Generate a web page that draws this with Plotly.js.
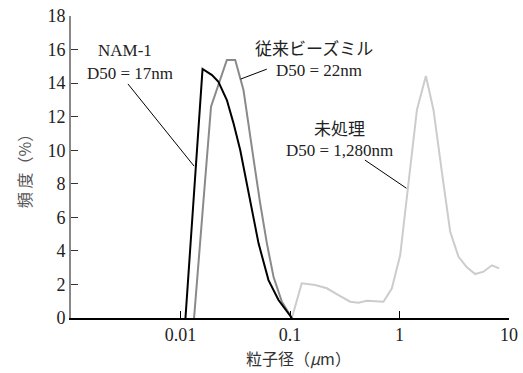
<!DOCTYPE html>
<html>
<head>
<meta charset="utf-8">
<script src="https://cdn.plot.ly/plotly-3.0.1.min.js"></script>
<style>
html,body{margin:0;padding:0;background:#fff;}
#chart{width:523px;height:373px;}
</style>
</head>
<body>
<div id="chart"></div>
<script>
// 粒子径 (µm) and 頻度 (%)
var namX = [0.0111, 0.0159, 0.0194, 0.0222, 0.0265, 0.0305, 0.0351, 0.0376, 0.0433, 0.0516, 0.0636, 0.0785, 0.104];
var namY = [0, 14.84, 14.48, 14.08, 12.99, 11.60, 10.01, 9.0, 6.84, 4.45, 2.26, 1.07, 0];

var beadX = [0.0133, 0.0190, 0.0265, 0.0316, 0.0376, 0.0418, 0.0481, 0.0534, 0.0615, 0.0707, 0.0843, 0.104];
var beadY = [0, 12.59, 15.38, 15.38, 13.59, 11.40, 8.82, 6.84, 4.45, 2.46, 0.97, 0];

var rawX = [0.104, 0.128, 0.170, 0.217, 0.277, 0.355, 0.422, 0.504, 0.714, 0.852, 1.015, 1.208, 1.442, 1.742, 2.044, 2.439, 2.904, 3.459, 4.126, 4.914, 5.85, 6.98, 8.14];
var rawY = [0, 2.07, 1.97, 1.77, 1.37, 0.97, 0.91, 1.03, 0.97, 1.77, 3.75, 8.08, 12.40, 14.42, 12.40, 8.7, 5.14, 3.65, 3.02, 2.62, 2.76, 3.14, 2.96];

var xTickVals = [0.01, 0.1, 1, 10];
var xTickText = ['0.01', '0.1', '1', '10'];

var serif = 'Liberation Serif, Times New Roman, serif';
var cjk = 'Noto Sans CJK JP, sans-serif';

var traces = [
  {x: rawX, y: rawY, mode: 'lines', line: {color: '#cccccc', width: 2}, hoverinfo: 'skip'},
  {x: beadX, y: beadY, mode: 'lines', line: {color: '#8a8a8a', width: 2}, hoverinfo: 'skip'},
  {x: namX, y: namY, mode: 'lines', line: {color: '#000000', width: 2}, hoverinfo: 'skip'}
];

function lbl(x, y, text, font, size) {
  return {xref: 'paper', yref: 'paper', x: x, y: y, text: text, showarrow: false,
          xanchor: 'center', yanchor: 'middle', font: {family: font, size: size, color: '#222'}};
}
function leader(x0, y0, x1, y1) {
  return {type: 'line', xref: 'paper', yref: 'paper', x0: x0, y0: y0, x1: x1, y1: y1,
          line: {color: '#000', width: 1}};
}

var layout = {
  width: 523, height: 373,
  margin: {l: 71, r: 14, t: 16, b: 55},
  paper_bgcolor: '#fff', plot_bgcolor: '#fff',
  showlegend: false,
  xaxis: {
    type: 'log', range: [-3, 1],
    tickvals: xTickVals, ticktext: xTickText,
    ticks: 'inside', ticklen: 7, tickwidth: 1, tickcolor: '#000',
    showline: true, linecolor: '#000', linewidth: 1.5,
    showgrid: false, zeroline: false,
    tickfont: {family: serif, size: 18, color: '#222'}
  },
  yaxis: {
    range: [0, 18], dtick: 2,
    ticks: 'inside', ticklen: 7, tickwidth: 1, tickcolor: '#333',
    showline: true, linecolor: '#888', linewidth: 2,
    showgrid: false, zeroline: false,
    tickfont: {family: serif, size: 18, color: '#222'},
    title: {text: '頻 度（%）', font: {family: cjk, size: 16, color: '#555'}, standoff: 12}
  },
  annotations: [
    lbl(0.123, 0.887, 'NAM-1', serif, 17),
    lbl(0.135, 0.808, 'D50 = 17nm', serif, 17),
    lbl(0.555, 0.897, '従来ビーズミル', cjk, 17),
    lbl(0.566, 0.821, 'D50 = 22nm', serif, 17),
    lbl(0.612, 0.632, '未処理', cjk, 17),
    lbl(0.612, 0.556, 'D50 = 1,280nm', serif, 17),
    {xref: 'paper', yref: 'paper', x: 0.52, y: -0.132, text: '粒子径（<i>μ</i>m）', showarrow: false,
     xanchor: 'center', yanchor: 'middle', font: {family: cjk, size: 16, color: '#333'}}
  ],
  shapes: [
    leader(0.130, 0.775, 0.281, 0.503),
    leader(0.387, 0.791, 0.447, 0.824),
    leader(0.671, 0.523, 0.766, 0.4295)
  ]
};

Plotly.newPlot('chart', traces, layout, {displayModeBar: false, staticPlot: true});
</script>
</body>
</html>
